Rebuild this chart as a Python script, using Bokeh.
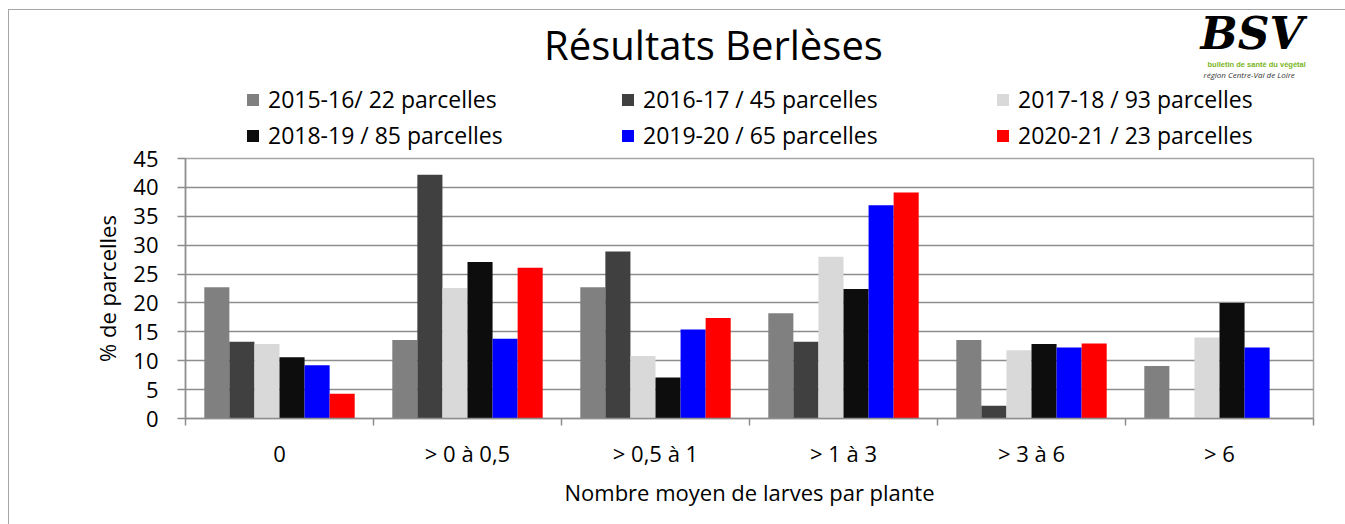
from bokeh.plotting import figure
from bokeh.layouts import column
from bokeh.models import (Range1d, FixedTicker, Legend, LegendItem, Label,
                          ColumnDataSource)
from bokeh.transform import dodge
from bokeh.embed import file_html
from bokeh.resources import INLINE

# ---- data ----
categories = ["0", "> 0 à 0,5", "> 0,5 à 1", "> 1 à 3", "> 3 à 6", "> 6"]
series_labels = ["2015-16/ 22 parcelles", "2016-17 / 45 parcelles", "2017-18 / 93 parcelles",
                 "2018-19 / 85 parcelles", "2019-20 / 65 parcelles", "2020-21 / 23 parcelles"]
s2015_16 = [22.7, 13.6, 22.7, 18.2, 13.6, 9.1]
s2016_17 = [13.3, 42.2, 28.9, 13.3, 2.2, 0.0]
s2017_18 = [12.9, 22.6, 10.8, 28.0, 11.8, 14.0]
s2018_19 = [10.6, 27.1, 7.1, 22.4, 12.9, 20.0]
s2019_20 = [9.2, 13.8, 15.4, 36.9, 12.3, 12.3]
s2020_21 = [4.3, 26.1, 17.4, 39.1, 13.0, 0.0]
y_ticks = [0, 5, 10, 15, 20, 25, 30, 35, 40, 45]

series = [s2015_16, s2016_17, s2017_18, s2018_19, s2019_20, s2020_21]
colors = ["#808080", "#404040", "#d9d9d9", "#0d0d0d", "#0000ff", "#ff0000"]

FONT = "Open Sans"
GRID = "#8d8d8d"
BORDER = "#a6a6a6"
W = 1345
HEAD_H = 150
OVERLAP = 10
MAIN_H = 374 + OVERLAP
FRAME_L, FRAME_R = 185, 1313

centers = [i + 0.5 for i in range(len(categories))]
data = {"x": centers}
for k, s in enumerate(series):
    data["s%d" % k] = s
source = ColumnDataSource(data)

# ================= main chart =================
p = figure(width=W, height=MAIN_H, x_range=Range1d(0, 6), y_range=Range1d(0, 45),
           output_backend="svg", toolbar_location=None,
           min_border_left=FRAME_L, min_border_right=W - FRAME_R,
           min_border_top=8 + OVERLAP, min_border_bottom=106)
p.margin = (-OVERLAP, 0, 0, 0)
p.styles = {"background": "linear-gradient(%s,%s) 8px 0px / 1px 100%% no-repeat" % (BORDER, BORDER)}
p.background_fill_color = "white"
p.border_fill_color = None
p.outline_line_color = BORDER
p.outline_line_width = 1.5

bw = 0.8 / 6
renderers = []
for k in range(6):
    r = p.vbar(x=dodge("x", (k - 2.5) * bw, range=p.x_range), top="s%d" % k, width=bw,
               source=source, fill_color=colors[k], line_color=None)
    renderers.append(r)

xa = p.xaxis[0]
xa.ticker = FixedTicker(ticks=centers, minor_ticks=list(range(len(categories) + 1)))
xa.major_label_overrides = {c: lab for c, lab in zip(centers, categories)}
xa.major_tick_out = 0
xa.major_tick_in = 0
xa.minor_tick_out = 7
xa.minor_tick_in = 0
xa.minor_tick_line_color = GRID
xa.minor_tick_line_width = 1.5
xa.axis_line_color = GRID
xa.axis_line_width = 1.5
xa.major_label_text_font = FONT
xa.major_label_text_font_size = "22px"
xa.major_label_text_color = "black"
xa.major_label_standoff = 12
xa.axis_label = "Nombre moyen de larves par plante"
xa.axis_label_text_font = FONT
xa.axis_label_text_font_size = "22px"
xa.axis_label_text_font_style = "normal"
xa.axis_label_text_color = "black"
xa.axis_label_standoff = 6

ya = p.yaxis[0]
ya.ticker = FixedTicker(ticks=y_ticks)
ya.major_tick_out = 8
ya.major_tick_in = 0
ya.minor_tick_line_color = None
ya.major_tick_line_color = GRID
ya.major_tick_line_width = 1.5
ya.axis_line_color = GRID
ya.axis_line_width = 1.5
ya.major_label_text_font = FONT
ya.major_label_text_font_size = "22px"
ya.major_label_text_color = "black"
ya.major_label_standoff = 19
ya.axis_label = "% de parcelles"
ya.axis_label_text_font = FONT
ya.axis_label_text_font_size = "22px"
ya.axis_label_text_font_style = "normal"
ya.axis_label_text_color = "black"
ya.axis_label_standoff = 8

p.xgrid.visible = False
p.ygrid.ticker = FixedTicker(ticks=y_ticks)
p.ygrid.grid_line_color = GRID
p.ygrid.grid_line_width = 1.5

# ================= header: title, legend, logo =================
# (its frame is aligned with the chart frame inside the column, so x data = page pixels)
h = figure(width=W, height=HEAD_H, x_range=Range1d(FRAME_L, FRAME_R), y_range=Range1d(0, HEAD_H),
           output_backend="svg", toolbar_location=None,
           x_axis_location=None, y_axis_location=None,
           min_border_left=FRAME_L, min_border_right=W - FRAME_R, min_border_top=0, min_border_bottom=0)
h.styles = {"background": ("linear-gradient(%s,%s) 8px 9px / 1px 100%% no-repeat, "
                           "linear-gradient(%s,%s) 8px 9px / 100%% 1px no-repeat, white")
            % (BORDER, BORDER, BORDER, BORDER)}
h.background_fill_color = None
h.border_fill_color = None
h.outline_line_color = None
h.grid.visible = False

# legend swatches come from (hidden) renderers carrying the same series styling
hidden = []
for k in range(6):
    r = h.vbar(x="x", top="s%d" % k, width=bw, source=source,
               fill_color=colors[k], line_color=None, visible=False)
    hidden.append(r)

items = [LegendItem(label=lab, renderers=[r]) for lab, r in zip(series_labels, hidden)]

def make_legend(its, vy):
    return Legend(items=its, orientation="horizontal", location=(245 - FRAME_L, vy),
                  glyph_width=15, glyph_height=15, label_standoff=8, label_width=352,
                  label_height=30, spacing=0, padding=0, margin=0,
                  label_text_font=FONT, label_text_font_size="23px", label_text_color="black",
                  border_line_color=None, background_fill_alpha=0,
                  inactive_fill_alpha=0)

h.add_layout(make_legend(items[:3], HEAD_H - 100 - 15), "center")
h.add_layout(make_legend(items[3:], HEAD_H - 136 - 15), "center")

h.add_layout(Label(x=713, y=HEAD_H - 44, text="Résultats Berlèses",
                   text_font=FONT, text_font_size="40px", text_color="black",
                   text_align="center", text_baseline="middle"))

# logo approximation
h.add_layout(Label(x=1200, y=HEAD_H - 58, text="BSV",
                   text_font="DejaVu Serif", text_font_style="bold italic", text_font_size="44px",
                   text_color="black"))
h.add_layout(Label(x=1207, y=HEAD_H - 68, text="bulletin de santé du végétal",
                   text_font="Liberation Sans", text_font_style="bold",
                   text_font_size="7.5px", text_color="#7ab51d"))
h.add_layout(Label(x=1203, y=HEAD_H - 79, text="région Centre-Val de Loire",
                   text_font=FONT, text_font_style="italic", text_font_size="8px",
                   text_color="#333333"))

layout = column(h, p, spacing=0)
open("out.html", "w").write(file_html(layout, INLINE))
